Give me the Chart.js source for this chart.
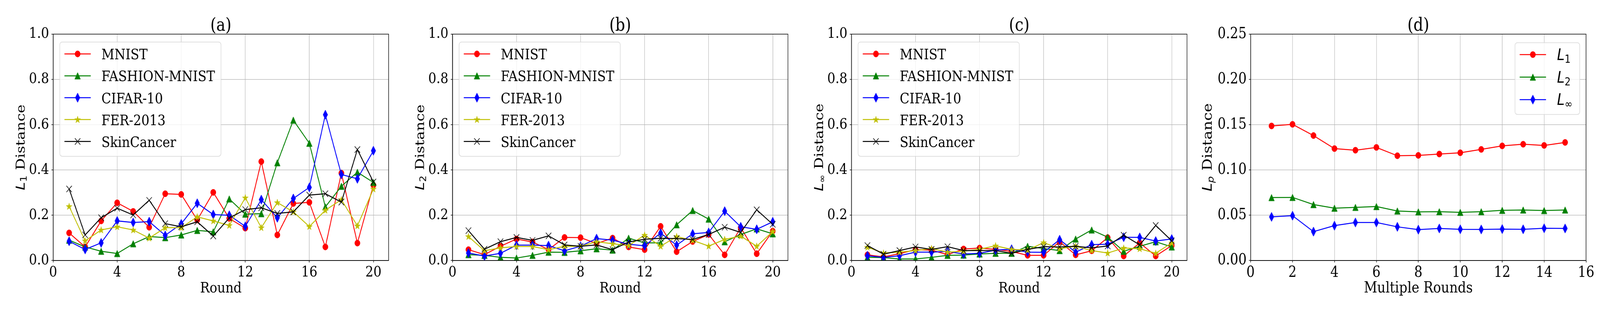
<!DOCTYPE html>
<html><head><meta charset="utf-8">
<script src="https://cdn.jsdelivr.net/npm/chart.js@4.4.1/dist/chart.umd.min.js"></script>
<style>
html,body{margin:0;padding:0;background:#fff;overflow:hidden}
#wrap{position:relative}
canvas{position:absolute;top:0}
</style></head><body>
<div id="wrap">
<canvas id="ca" width="1200" height="800"></canvas>
<canvas id="cb" width="1200" height="800"></canvas>
<canvas id="cc" width="1200" height="800"></canvas>
<canvas id="cd" width="1200" height="800"></canvas>
</div>
<script>
// ---------------- data ----------------
const rounds = [1,2,3,4,5,6,7,8,9,10,11,12,13,14,15,16,17,18,19,20];
const multipleRounds = [1,2,3,4,5,6,7,8,9,10,11,12,13,14,15];
const datasetNames = ['MNIST','FASHION-MNIST','CIFAR-10','FER-2013','SkinCancer'];
const normNames = ['L1','L2','L∞'];

// (a) L1 distance
const l1Mnist   = [0.122,0.060,0.175,0.255,0.217,0.147,0.295,0.292,0.179,0.301,0.186,0.143,0.437,0.113,0.252,0.257,0.060,0.386,0.077,0.333];
const l1Fashion = [0.090,0.060,0.041,0.031,0.074,0.106,0.101,0.113,0.133,0.127,0.272,0.205,0.207,0.432,0.620,0.518,0.237,0.328,0.390,0.345];
const l1Cifar   = [0.085,0.049,0.078,0.175,0.168,0.172,0.111,0.162,0.253,0.203,0.200,0.151,0.269,0.189,0.274,0.323,0.644,0.380,0.361,0.485];
const l1Fer     = [0.239,0.087,0.135,0.149,0.135,0.099,0.145,0.145,0.193,0.175,0.155,0.277,0.145,0.256,0.215,0.150,0.222,0.269,0.153,0.316];
const l1Skin    = [0.316,0.113,0.189,0.231,0.201,0.266,0.163,0.149,0.171,0.108,0.188,0.225,0.233,0.208,0.215,0.289,0.295,0.258,0.490,0.347];

// (b) L2 distance
const l2Mnist   = [0.048,0.026,0.063,0.095,0.082,0.048,0.102,0.101,0.075,0.099,0.060,0.048,0.151,0.039,0.084,0.115,0.025,0.145,0.030,0.130];
const l2Fashion = [0.026,0.023,0.014,0.011,0.023,0.037,0.036,0.043,0.052,0.046,0.099,0.078,0.078,0.158,0.221,0.183,0.083,0.115,0.140,0.118];
const l2Cifar   = [0.033,0.020,0.032,0.068,0.068,0.066,0.043,0.063,0.097,0.090,0.072,0.065,0.121,0.068,0.118,0.124,0.218,0.149,0.138,0.171];
const l2Fer     = [0.106,0.043,0.056,0.062,0.062,0.048,0.063,0.063,0.083,0.074,0.066,0.112,0.063,0.106,0.089,0.064,0.093,0.108,0.063,0.128];
const l2Skin    = [0.132,0.050,0.083,0.102,0.089,0.109,0.069,0.063,0.069,0.048,0.082,0.094,0.098,0.097,0.093,0.115,0.147,0.124,0.224,0.160];

// (c) L-infinity distance
const linfMnist   = [0.025,0.016,0.030,0.048,0.046,0.026,0.051,0.055,0.049,0.040,0.023,0.023,0.083,0.025,0.043,0.101,0.020,0.078,0.020,0.066];
const linfFashion = [0.014,0.013,0.007,0.007,0.014,0.023,0.024,0.029,0.032,0.032,0.063,0.053,0.044,0.095,0.135,0.103,0.041,0.063,0.083,0.060];
const linfCifar   = [0.021,0.014,0.021,0.037,0.037,0.040,0.029,0.032,0.046,0.050,0.037,0.036,0.092,0.037,0.070,0.072,0.103,0.102,0.086,0.095];
const linfFer     = [0.059,0.033,0.037,0.044,0.053,0.037,0.041,0.050,0.065,0.049,0.046,0.079,0.052,0.063,0.044,0.033,0.055,0.052,0.032,0.078];
const linfSkin    = [0.066,0.028,0.044,0.060,0.049,0.061,0.044,0.044,0.044,0.032,0.049,0.061,0.060,0.063,0.056,0.064,0.112,0.069,0.155,0.087];

// (d) Lp distance over multiple rounds
const lpL1   = [0.1486,0.1504,0.1380,0.1236,0.1218,0.1249,0.1157,0.1161,0.1176,0.1190,0.1227,0.1266,0.1284,0.1271,0.1304];
const lpL2   = [0.0695,0.0697,0.0618,0.0578,0.0587,0.0596,0.0547,0.0537,0.0539,0.0532,0.0539,0.0554,0.0558,0.0552,0.0558];
const lpLinf = [0.0482,0.0495,0.0319,0.0385,0.0420,0.0420,0.0372,0.0341,0.0354,0.0345,0.0343,0.0347,0.0345,0.0356,0.0354];

// ticks
const xTicksRound = [0,4,8,12,16,20];
const xTicksMulti = [0,2,4,6,8,10,12,14,16];
const yTicksDist  = [0,0.2,0.4,0.6,0.8,1.0];
const yTicksLp    = [0,0.05,0.10,0.15,0.20,0.25];

// ---------------- page fit: map the 4800 x 800 design onto the viewport ----------------
const SX = (window.innerWidth || 4800) / 4800;
const SY = (window.innerHeight || 800) / 800;
const wrap = document.getElementById('wrap');
wrap.style.width = (4800*SX)+'px'; wrap.style.height = (800*SY)+'px';
['ca','cb','cc','cd'].forEach((id,i) => {
  const c = document.getElementById(id);
  c.style.left = (i*1200*SX)+'px'; c.style.width = (1200*SX)+'px'; c.style.height = (800*SY)+'px';
});

// ---------------- styling ----------------
const SERIF = '"DejaVu Serif", "Liberation Serif", serif';
const SANS = '"DejaVu Sans", sans-serif';
const colors = ['#ff0000','#008000','#0000ff','#bfbf00','#000000'];

function mk(w,h,fn){const c=document.createElement('canvas');c.width=w;c.height=h;const g=c.getContext('2d');fn(g);return c;}
function triangleImg(col){return mk(21,21,g=>{g.beginPath();g.moveTo(10.5,2);g.lineTo(19,19);g.lineTo(2,19);g.closePath();g.fillStyle=col;g.fill();g.strokeStyle=col;g.lineWidth=1;g.stroke();});}
function diamondImg(col){return mk(18,28,g=>{g.beginPath();g.moveTo(9,2);g.lineTo(16,14);g.lineTo(9,26);g.lineTo(2,14);g.closePath();g.fillStyle=col;g.fill();g.strokeStyle=col;g.lineWidth=1;g.stroke();});}
function starImg(col){return mk(22,22,g=>{const cx=11,cy=11.6,R=9.3,r=R*0.381966;g.beginPath();for(let k=0;k<10;k++){const a=-Math.PI/2+k*Math.PI/5;const rr=k%2?r:R;const px=cx+rr*Math.cos(a),py=cy+rr*Math.sin(a);k?g.lineTo(px,py):g.moveTo(px,py);}g.closePath();g.fillStyle=col;g.fill();g.strokeStyle=col;g.lineWidth=1;g.stroke();});}

function markerSpec(kind,col){
  if(kind==='o') return {pointStyle:'circle',pointRadius:8,pointBorderWidth:1};
  if(kind==='^') return {pointStyle:triangleImg(col),pointRadius:9,pointBorderWidth:1};
  if(kind==='d') return {pointStyle:diamondImg(col),pointRadius:10,pointBorderWidth:1};
  if(kind==='*') return {pointStyle:starImg(col),pointRadius:10,pointBorderWidth:1};
  return {pointStyle:'crossRot',pointRadius:11.5,pointBorderWidth:1.6};
}
const markers5 = ['o','^','d','*','x'];

function makeDataset(label,xs,ys,i,kind){
  const col = colors[i];
  const m = markerSpec(kind,col);
  return Object.assign({
    label: label,
    data: xs.map((x,k)=>({x:x,y:ys[k]})),
    borderColor: col, backgroundColor: col,
    pointBackgroundColor: col, pointBorderColor: col,
    borderWidth: 2.5, tension: 0, fill: false,
    order: 10 - i
  }, m);
}

function drawMarker(ctx,ds,x,y){
  const st = ds.pointStyle;
  ctx.save();
  if (typeof st === 'object') { ctx.drawImage(st, x-st.width/2, y-st.height/2); }
  else if (st === 'circle') { ctx.beginPath(); ctx.arc(x,y,ds.pointRadius,0,Math.PI*2); ctx.fillStyle=ds.pointBackgroundColor; ctx.fill(); ctx.lineWidth=ds.pointBorderWidth; ctx.strokeStyle=ds.pointBorderColor; ctx.stroke(); }
  else { const o = Math.cos(Math.PI/4)*ds.pointRadius; ctx.beginPath(); ctx.moveTo(x-o,y-o); ctx.lineTo(x+o,y+o); ctx.moveTo(x-o,y+o); ctx.lineTo(x+o,y-o); ctx.lineWidth=ds.pointBorderWidth; ctx.strokeStyle=ds.pointBorderColor; ctx.stroke(); }
  ctx.restore();
}

function drawParts(ctx, parts, startX, baseY){
  let x = startX;
  for (const p of parts){ ctx.font = p.font; ctx.fillText(p.text, x, baseY + (p.dy||0)); x += ctx.measureText(p.text).width + (p.gap||0); }
}
function partsWidth(ctx, parts){ let w=0; for (const p of parts){ ctx.font=p.font; w += ctx.measureText(p.text).width + (p.gap||0);} return w; }

function mathLabel(base, sub, subItalic, size){
  return [
    {text: base, font: 'italic '+size+'px '+SANS},
    {text: sub, font: (subItalic?'italic ':'')+Math.round(size*0.68)+'px '+SANS, dy: Math.round(size*0.16)}
  ];
}

const panelPlugin = {
  id: 'panelDecor',
  afterDatasetsDraw(chart){
    const a = chart.chartArea, ctx = chart.ctx;
    ctx.save(); ctx.strokeStyle = '#000'; ctx.lineWidth = 1.5;
    ctx.strokeRect(a.left, a.top, a.right-a.left, a.bottom-a.top); ctx.restore();
  },
  afterDraw(chart){
    const a = chart.chartArea, ctx = chart.ctx, P = chart.options.plugins.panelDecor;
    const cx = (a.left + a.right)/2, cy = (a.top + a.bottom)/2;
    ctx.save(); ctx.fillStyle = '#000'; ctx.textBaseline = 'alphabetic';
    ctx.font = P.titleSize+'px '+SERIF; ctx.textAlign = 'center';
    ctx.fillText(P.title, cx, 78.5);
    ctx.font = P.fontSize+'px '+SERIF;
    ctx.fillText(P.xlabel, cx, 749.5);
    ctx.textAlign = 'left';
    const yparts = mathLabel(P.ylab[0], P.ylab[1], P.ylab[2], P.fontSize).concat([{text:' Distance', font: P.fontSize+'px '+SERIF}]);
    yparts[1].gap = 2;
    const yw = partsWidth(ctx, yparts);
    ctx.translate(a.left - P.ylabOffset, cy); ctx.rotate(-Math.PI/2);
    drawParts(ctx, yparts, -yw/2, 0);
    ctx.restore();

    const L = P.legend, dss = chart.data.datasets;
    ctx.save();
    ctx.textBaseline = 'alphabetic'; ctx.textAlign = 'left';
    const labelParts = dss.map(ds => L.math ? mathLabel(ds._mbase, ds._msub, ds._msubItalic, L.mathSize) : [{text: ds.label, font: P.fontSize+'px '+SERIF}]);
    let maxW = 0; labelParts.forEach(p => { maxW = Math.max(maxW, partsWidth(ctx, p)); });
    const boxW = L.textOff + maxW + L.rightPad;
    const boxTop = L.firstRow - 30.6;
    const boxH = (L.firstRow + (dss.length-1)*L.rowStep + 38) - boxTop;
    const boxLeft = L.align === 'left' ? a.left + 20 : a.right - 19 - boxW;
    ctx.beginPath();
    if (ctx.roundRect) ctx.roundRect(boxLeft, boxTop, boxW, boxH, 7); else ctx.rect(boxLeft, boxTop, boxW, boxH);
    ctx.fillStyle = 'rgba(255,255,255,0.8)'; ctx.fill();
    ctx.strokeStyle = '#d6d6d6'; ctx.lineWidth = 1.5; ctx.stroke();
    dss.forEach((ds, i) => {
      const y = L.firstRow + i*L.rowStep;
      ctx.beginPath(); ctx.moveTo(boxLeft+14, y); ctx.lineTo(boxLeft+93, y);
      ctx.strokeStyle = ds.borderColor; ctx.lineWidth = ds.borderWidth; ctx.stroke();
      drawMarker(ctx, ds, boxLeft+53.5, y);
      ctx.fillStyle = '#000';
      drawParts(ctx, labelParts[i], boxLeft + L.textOff, y + 14);
    });
    ctx.restore();
  }
};

function makeChart(id, cfg){
  const left = cfg.left, plotW = 1006.5;
  return new Chart(document.getElementById(id), {
    type: 'line',
    data: { datasets: cfg.datasets },
    options: {
      responsive: false, animation: false, devicePixelRatio: 1, events: [],
      layout: { padding: { left: 0, right: 1200 - left - plotW, top: 87.5, bottom: 0 } },
      plugins: { legend: { display: false }, tooltip: { enabled: false }, title: { display: false },
        panelDecor: cfg.decor },
      scales: {
        x: {
          type: 'linear', min: 0, max: cfg.xmax,
          afterBuildTicks: s => { s.ticks = cfg.xticks.map(v => ({ value: v })); },
          afterFit: s => { s.height = 132; },
          ticks: { autoSkip: false, maxRotation: 0, color: '#000', padding: 3,
            font: { family: SERIF, size: cfg.decor.fontSize }, callback: v => String(v) },
          grid: { color: '#b0b0b0', lineWidth: 1.2, tickColor: '#000', tickLength: 5, tickWidth: 1.5 },
          border: { display: true, color: '#000', width: 1.5 }
        },
        y: {
          type: 'linear', min: 0, max: cfg.ymax,
          afterBuildTicks: s => { s.ticks = cfg.yticks.map(v => ({ value: v })); },
          afterFit: s => { s.width = left; },
          ticks: { autoSkip: false, color: '#000', padding: 7,
            font: { family: SERIF, size: cfg.decor.fontSize }, callback: v => Number(v).toFixed(cfg.dec) },
          grid: { color: '#b0b0b0', lineWidth: 1.2, tickColor: '#000', tickLength: 5, tickWidth: 1.5 },
          border: { display: true, color: '#000', width: 1.5 }
        }
      }
    },
    plugins: [panelPlugin]
  });
}

function fiveSets(arrs){ return arrs.map((ys,i) => makeDataset(datasetNames[i], rounds, ys, i, markers5[i])); }
const legendA = { align: 'left', firstRow: 138.3, rowStep: 56.1, textOff: 125, rightPad: 18, math: false };

makeChart('ca', { left: 159.3, xmax: 20.95, ymax: 1.0, dec: 1, xticks: xTicksRound, yticks: yTicksDist,
  datasets: fiveSets([l1Mnist,l1Fashion,l1Cifar,l1Fer,l1Skin]),
  decor: { title: '(a)', xlabel: 'Round', ylab: ['L','1',false], fontSize: 38, titleSize: 46, ylabOffset: 85.6, legend: legendA } });

makeChart('cb', { left: 157.3, xmax: 20.95, ymax: 1.0, dec: 1, xticks: xTicksRound, yticks: yTicksDist,
  datasets: fiveSets([l2Mnist,l2Fashion,l2Cifar,l2Fer,l2Skin]),
  decor: { title: '(b)', xlabel: 'Round', ylab: ['L','2',false], fontSize: 38, titleSize: 46, ylabOffset: 85.6, legend: legendA } });

makeChart('cc', { left: 154.3, xmax: 20.95, ymax: 1.0, dec: 1, xticks: xTicksRound, yticks: yTicksDist,
  datasets: fiveSets([linfMnist,linfFashion,linfCifar,linfFer,linfSkin]),
  decor: { title: '(c)', xlabel: 'Round', ylab: ['L','∞',false], fontSize: 38, titleSize: 46, ylabOffset: 85.6, legend: legendA } });

const dSets = [lpL1, lpL2, lpLinf].map((ys,i) => {
  const ds = makeDataset(normNames[i], multipleRounds, ys, i, markers5[i]);
  ds._mbase = 'L'; ds._msub = normNames[i].slice(1); ds._msubItalic = false;
  return ds;
});
makeChart('cd', { left: 151.7, xmax: 16, ymax: 0.25, dec: 2, xticks: xTicksMulti, yticks: yTicksLp,
  datasets: dSets,
  decor: { title: '(d)', xlabel: 'Multiple Rounds', ylab: ['L','p',true], fontSize: 39, titleSize: 46, ylabOffset: 116.7,
    legend: { align: 'right', firstRow: 140, rowStep: 57.7, textOff: 126, rightPad: 22, math: true, mathSize: 41 } } });
</script>
</body></html>
